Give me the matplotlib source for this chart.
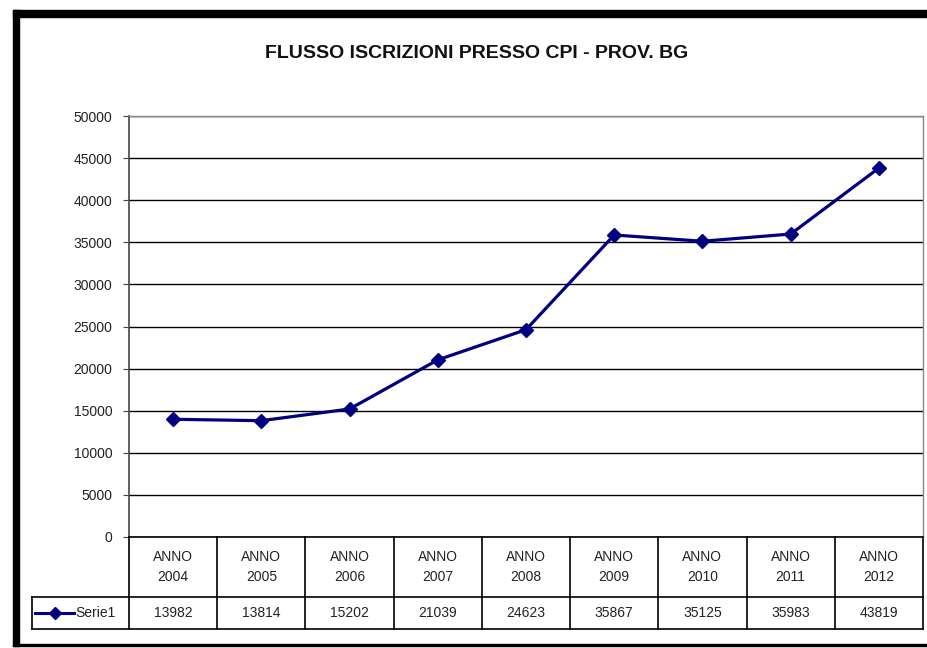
#!/usr/bin/env python
# -*- coding: utf-8 -*-
"""
Flusso iscrizioni presso CPI - Prov. BG
"""

import matplotlib
matplotlib.use('Agg')
import matplotlib.pyplot as plt
from matplotlib.lines import Line2D
from matplotlib.patches import Rectangle

# dati
anni = ['2004', '2005', '2006', '2007', '2008', '2009', '2010', '2011', '2012']
etichette = ['ANNO\n' + a for a in anni]
iscrizioni = [13982, 13814, 15202, 21039, 24623, 35867, 35125, 35983, 43819]
serie_nome = 'Serie1'
titolo = 'FLUSSO ISCRIZIONI PRESSO CPI - PROV. BG'
y_ticks = list(range(0, 50001, 5000))

plt.rcParams['font.family'] = ['Liberation Sans', 'DejaVu Sans']

W, H = 927, 648
fig = plt.figure(figsize=(W / 100, H / 100), dpi=100)
fig.patch.set_facecolor('white')

# area del grafico (in pixel: x 129-923, y 116-537)
ax = fig.add_axes([129 / W, 1 - 537 / H, 794 / W, 421 / H])

colore = '#000080'
x = [i + 0.5 for i in range(len(anni))]
ax.plot(x, iscrizioni, color=colore, linewidth=2.3, marker='D', markersize=7.5,
        markerfacecolor=colore, markeredgecolor=colore, zorder=5)

ax.set_xlim(0, len(anni))
ax.set_ylim(0, 50000)
ax.set_yticks(y_ticks)
ax.set_yticklabels([str(v) for v in y_ticks], fontsize=10, color='#222222')
ax.tick_params(axis='y', direction='out', length=4, pad=8, color='#444444')
ax.set_xticks([])
ax.yaxis.grid(True, color='black', linewidth=1.0)
ax.set_axisbelow(True)
for k in ['top', 'right']:
    ax.spines[k].set_color('#888888')
    ax.spines[k].set_linewidth(1.0)
ax.spines['left'].set_color('#444444')
ax.spines['left'].set_linewidth(1.2)
ax.spines['bottom'].set_color('black')
ax.spines['bottom'].set_linewidth(1.2)

# tabella dati sotto il grafico
tr = ax.get_xaxis_transform()
px = 1 / 421.0
r1 = -60 * px   # fine riga etichette
r2 = -92 * px   # fine riga valori
leg_x = -1.1    # bordo sinistro colonna legenda
lk = dict(color='black', linewidth=1.2, transform=tr, clip_on=False)

ax.add_line(Line2D([leg_x, len(anni)], [r1, r1], **lk))
ax.add_line(Line2D([leg_x, len(anni)], [r2, r2], **lk))
ax.add_line(Line2D([leg_x, leg_x], [r1, r2], **lk))
for i in range(len(anni) + 1):
    ax.add_line(Line2D([i, i], [0, r2], **lk))

for i, (lab, val) in enumerate(zip(etichette, iscrizioni)):
    ax.text(i + 0.5, r1 / 2, lab, transform=tr, ha='center', va='center',
            fontsize=10, color='#222222', linespacing=1.6, clip_on=False)
    ax.text(i + 0.5, (r1 + r2) / 2, str(val), transform=tr, ha='center',
            va='center', fontsize=10, color='#222222', clip_on=False)

# legenda nella tabella
ax.add_line(Line2D([-1.06, -0.62], [(r1 + r2) / 2] * 2, color=colore,
                   linewidth=2.2, transform=tr, clip_on=False))
ax.add_line(Line2D([-0.84], [(r1 + r2) / 2], color=colore, marker='D',
                   markersize=6, transform=tr, clip_on=False))
ax.text(-0.61, (r1 + r2) / 2, serie_nome, transform=tr, ha='left',
        va='center', fontsize=10, color='#222222', clip_on=False)

# titolo
fig.text(477 / W, 1 - 54 / H, titolo, ha='center', va='center',
         fontsize=14, fontweight='bold', color='#111111')

# cornice nera
fig.patches.append(Rectangle((13 / W, 1 - 17 / H), 1 - 13 / W, 7 / H,
                             transform=fig.transFigure, color='black'))
fig.patches.append(Rectangle((13 / W, 1 - 646 / H), 6 / W, 636 / H,
                             transform=fig.transFigure, color='black'))
fig.patches.append(Rectangle((13 / W, 1 - 646 / H), 1 - 13 / W, 2 / H,
                             transform=fig.transFigure, color='black'))

plt.savefig('out.png', dpi=100)
